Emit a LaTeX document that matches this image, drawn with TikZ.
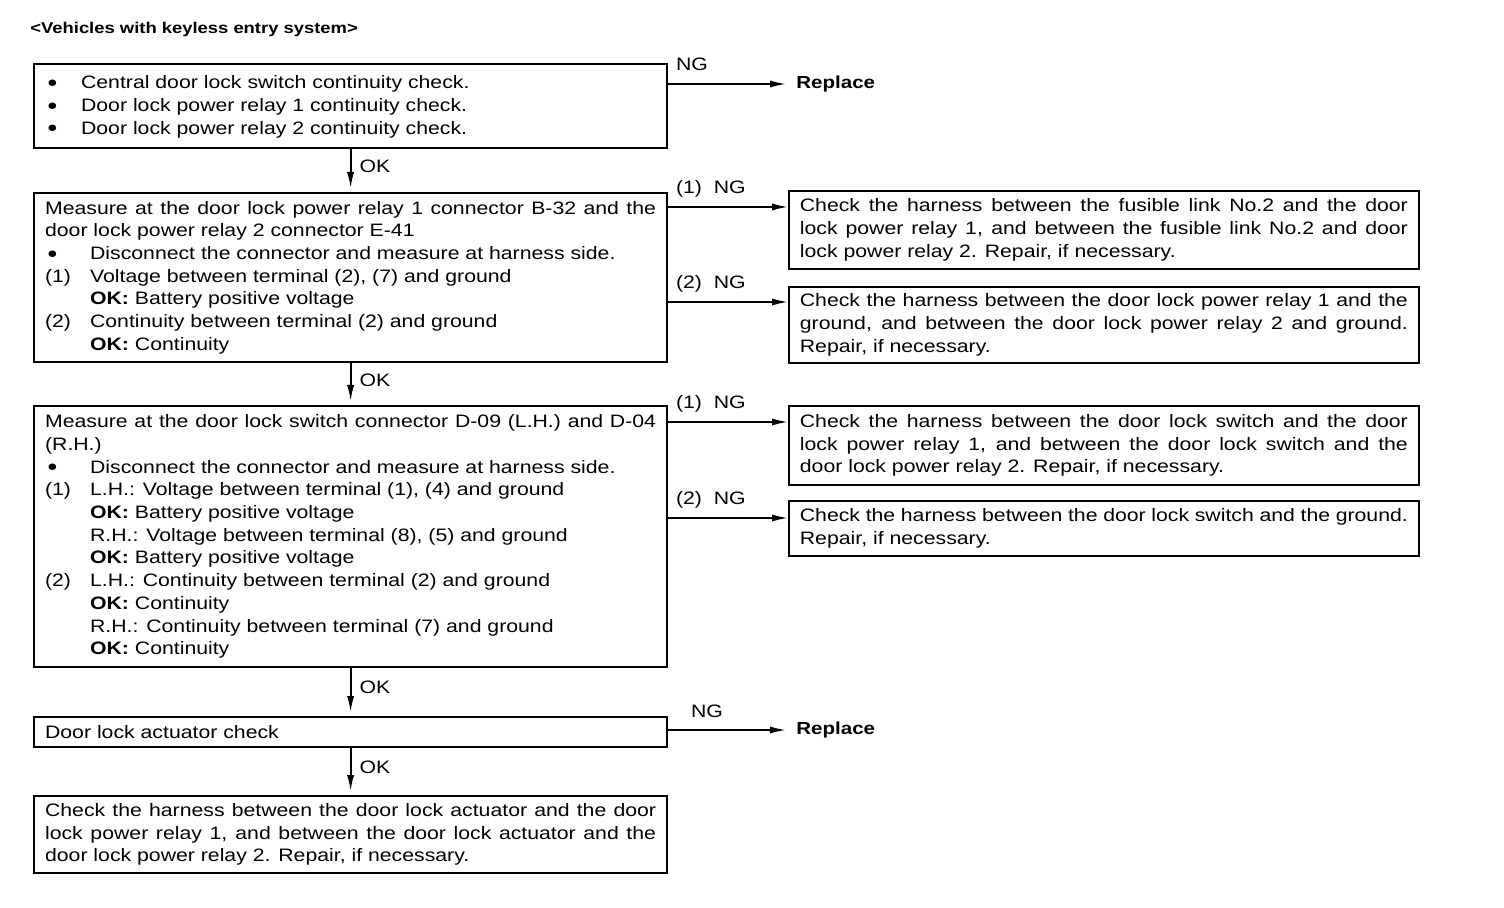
\documentclass[tikz,border=0pt]{standalone}
\usepackage{fontspec}
\setmainfont{Liberation Sans}[FakeStretch=1.18]
\usetikzlibrary{arrows.meta,positioning}
\setlength{\parindent}{0pt}
\newcommand{\tagrow}[2]{\par\noindent\makebox[#1][l]{#2}}
\newcommand{\dotmark}{\hspace{1pt}\raisebox{0.6pt}{\fontsize{7.5}{0}\selectfont ●}}

\begin{document}
\begin{tikzpicture}[x=0.5pt,y=-0.5pt,
    chkbox/.style={draw,line width=1.1pt,anchor=north west,
                   text width=305.5pt,inner xsep=5.5pt,inner ysep=1pt,align=justify,
                   font=\fontsize{9}{11.35}\selectfont},
    fixbox/.style={chkbox,line width=0.9pt,text width=304pt},
    flow/.style={-{Latex[length=8pt,width=3.6pt]},line width=0.9pt},
    oklbl/.style={right,inner sep=0pt,xshift=4pt,font=\fontsize{9}{11}\selectfont},
    nglbl/.style={anchor=base west,inner sep=0pt,xshift=3.5pt,yshift=6.5pt,
                  font=\fontsize{9}{11}\selectfont},
    endlbl/.style={anchor=west,inner xsep=5pt,font=\bfseries\fontsize{8.7}{10}\selectfont}]
  \useasboundingbox (0,0) rectangle (1504,908);
  \node[anchor=west,inner sep=0pt,font=\bfseries\fontsize{7.8}{9}\selectfont] (title) at (30,29)
    {<Vehicles with keyless entry system>};
  % left column
  \node[chkbox,minimum height=42pt,inner ysep=0pt] (cont) at (33,63)
    {\tagrow{18pt}{\dotmark}Central door lock switch continuity check.
     \tagrow{18pt}{\dotmark}Door lock power relay 1 continuity check.
     \tagrow{18pt}{\dotmark}Door lock power relay 2 continuity check.\rule[-6pt]{0pt}{0pt}};
  \node[chkbox,minimum height=84.5pt] (relay) at (33,192)
    {Measure at the door lock power relay 1 connector B-32 and the\linebreak door lock power relay 2 connector E-41
     \tagrow{22.5pt}{\dotmark}Disconnect the connector and measure at harness side.
     \tagrow{22.5pt}{(1)}Voltage between terminal (2), (7) and ground
     \tagrow{22.5pt}{}\textbf{OK:} Battery positive voltage
     \tagrow{22.5pt}{(2)}Continuity between terminal (2) and ground
     \tagrow{22.5pt}{}\textbf{OK:} Continuity};
  \node[chkbox,minimum height=130.5pt] (sw) at (33,405)
    {Measure at the door lock switch connector D-09 (L.H.) and D-04\linebreak (R.H.)
     \tagrow{22.5pt}{\dotmark}Disconnect the connector and measure at harness side.
     \tagrow{22.5pt}{(1)}L.H.: Voltage between terminal (1), (4) and ground
     \tagrow{22.5pt}{}\textbf{OK:} Battery positive voltage
     \tagrow{22.5pt}{}R.H.: Voltage between terminal (8), (5) and ground
     \tagrow{22.5pt}{}\textbf{OK:} Battery positive voltage
     \tagrow{22.5pt}{(2)}L.H.: Continuity between terminal (2) and ground
     \tagrow{22.5pt}{}\textbf{OK:} Continuity
     \tagrow{22.5pt}{}R.H.: Continuity between terminal (7) and ground
     \tagrow{22.5pt}{}\textbf{OK:} Continuity};
  \node[chkbox,minimum height=15pt] (act) at (33,716) {Door lock actuator check};
  \node[chkbox,minimum height=38.5pt] (harn) at (33,795)
    {Check the harness between the door lock actuator and the door\linebreak lock power relay 1, and between the door lock actuator and the\linebreak door lock power relay 2. Repair, if necessary.};
  % right column
  \node[endlbl] (rep1) at (786,84) {Replace};
  \node[fixbox,minimum height=39pt] (fuse) at (788,190)
    {Check the harness between the fusible link No.2 and the door\linebreak lock power relay 1, and between the fusible link No.2 and door\linebreak lock power relay 2. Repair, if necessary.};
  \node[fixbox,minimum height=38pt] (gnd) at (788,286)
    {Check the harness between the door lock power relay 1 and the\linebreak ground, and between the door lock power relay 2 and ground.\linebreak Repair, if necessary.};
  \node[fixbox,minimum height=39.5pt] (swrel) at (788,405)
    {Check the harness between the door lock switch and the door\linebreak lock power relay 1, and between the door lock switch and the\linebreak door lock power relay 2. Repair, if necessary.};
  \node[fixbox,minimum height=27.5pt] (swgnd) at (788,500)
    {Check the harness between the door lock switch and the ground.\linebreak Repair, if necessary.};
  \node[endlbl] (rep2) at (786,730) {Replace};
  % OK arrows
  \draw[flow,shorten >=2pt] (cont) -- node[oklbl,pos=0.4] {OK} (relay);
  \draw[flow,shorten >=2pt] (relay) -- node[oklbl,pos=0.4] {OK} (sw);
  \draw[flow,shorten >=2pt] (sw) -- node[oklbl,pos=0.4] {OK} (act);
  \draw[flow,shorten >=2pt] (act) -- node[oklbl,pos=0.4] {OK} (harn);
  % NG arrows
  \coordinate (f1) at ([yshift=-8.5pt]fuse.north west);
  \coordinate (f2) at ([yshift=-8pt]gnd.north west);
  \coordinate (f3) at ([yshift=-8.5pt]swrel.north west);
  \coordinate (f4) at ([yshift=-9pt]swgnd.north west);
  \draw[flow] (rep1.west -| cont.east) -- node[nglbl,at start] {NG} (rep1.west);
  \draw[flow] (f1 -| relay.east) -- node[nglbl,at start] {(1)\ \ NG} (f1);
  \draw[flow] (f2 -| relay.east) -- node[nglbl,at start] {(2)\ \ NG} (f2);
  \draw[flow] (f3 -| sw.east) -- node[nglbl,at start] {(1)\ \ NG} (f3);
  \draw[flow] (f4 -| sw.east) -- node[nglbl,at start] {(2)\ \ NG} (f4);
  \draw[flow] (rep2.west -| act.east) -- node[nglbl,at start,xshift=7.5pt] {NG} (rep2.west);
\end{tikzpicture}
\end{document}
